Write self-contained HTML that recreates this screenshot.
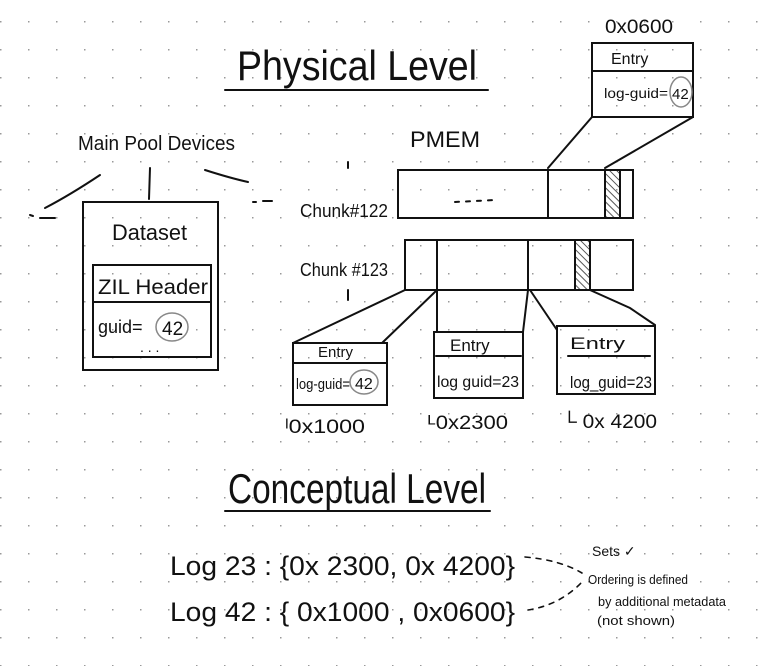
<!DOCTYPE html>
<html><head><meta charset="utf-8"><style>
html,body{margin:0;padding:0;background:#fff}
svg{display:block}
text{font-family:"Liberation Sans",sans-serif;fill:#111}
</style></head><body>
<svg width="774" height="666" viewBox="0 0 774 666" xmlns="http://www.w3.org/2000/svg">
<defs>
<pattern id="dots" x="0" y="21" width="28" height="28" patternUnits="userSpaceOnUse">
<rect x="0" y="0" width="1.5" height="1.5" fill="#999"/>
</pattern>
<pattern id="hatch" width="5" height="5" patternUnits="userSpaceOnUse" patternTransform="rotate(-45)">
<line x1="0" y1="0" x2="0" y2="5" stroke="#222" stroke-width="1.5"/>
</pattern>
</defs>
<rect width="774" height="666" fill="#fff"/>
<rect width="774" height="666" fill="url(#dots)"/>
<g stroke="#111" stroke-width="2" fill="none" stroke-linecap="round">
<line x1="225" y1="90" x2="488" y2="90"/>
<line x1="225" y1="511" x2="490" y2="511"/>
<rect x="592" y="43" width="101" height="74"/>
<line x1="592" y1="71" x2="693" y2="71"/>
<ellipse cx="681" cy="92" rx="11" ry="15" stroke="#888" stroke-width="1.5"/>
<line x1="592" y1="117" x2="548" y2="168"/>
<line x1="693" y1="117" x2="605" y2="168"/>
<rect x="398" y="170" width="235" height="48"/>
<line x1="548" y1="170" x2="548" y2="218"/>
<rect x="605" y="170" width="15" height="48" fill="url(#hatch)"/>
<line x1="620" y1="170" x2="620" y2="218"/>
<rect x="405" y="240" width="228" height="50"/>
<line x1="437" y1="240" x2="437" y2="290"/>
<line x1="528" y1="240" x2="528" y2="290"/>
<rect x="575" y="240" width="15" height="50" fill="url(#hatch)"/>
<line x1="590" y1="240" x2="590" y2="290"/>
<line x1="405" y1="290" x2="293" y2="343"/>
<line x1="437" y1="290" x2="382" y2="343"/>
<line x1="437" y1="290" x2="437" y2="332"/>
<line x1="528" y1="290" x2="523" y2="332"/>
<polyline points="530,290 557,330 557,335"/>
<polyline points="590,290 630,308 655,325"/>
<rect x="293" y="343" width="94" height="62"/>
<line x1="293" y1="363" x2="387" y2="363"/>
<ellipse cx="364" cy="382" rx="14" ry="12" stroke="#888" stroke-width="1.5"/>
<rect x="434" y="332" width="89" height="66"/>
<line x1="436" y1="356" x2="521" y2="356"/>
<rect x="557" y="326" width="98" height="68"/>
<line x1="568" y1="356" x2="650" y2="356"/>
<rect x="83" y="202" width="135" height="168"/>
<rect x="93" y="265" width="118" height="92"/>
<line x1="93" y1="302" x2="211" y2="302"/>
<ellipse cx="172" cy="327" rx="16" ry="14" stroke="#888" stroke-width="1.5"/>
<line x1="150" y1="168" x2="149" y2="199"/>
<path d="M100 175 Q70 195 45 208"/>
<path d="M205 170 Q230 178 248 182"/>
<line x1="30" y1="215" x2="33" y2="216"/>
<line x1="40" y1="218" x2="55" y2="218"/>
<line x1="253" y1="202" x2="256" y2="202"/>
<line x1="263" y1="201" x2="272" y2="201"/>
<path d="M525 557 Q560 560 582 573" stroke-dasharray="5,6" stroke-width="1.6"/>
<path d="M528 610 Q560 605 582 582" stroke-dasharray="5,6" stroke-width="1.6"/>
<line x1="348" y1="162" x2="348" y2="168"/>
<line x1="348" y1="290" x2="348" y2="300"/>
<line x1="455" y1="202" x2="495" y2="200" stroke-dasharray="4,7"/>
</g>
<text x="237" y="80" font-size="42" textLength="240" lengthAdjust="spacingAndGlyphs">Physical Level</text>
<text x="228" y="503" font-size="42" textLength="258" lengthAdjust="spacingAndGlyphs">Conceptual Level</text>
<text x="605" y="33" font-size="19" textLength="68" lengthAdjust="spacingAndGlyphs">0x0600</text>
<text x="611" y="64" font-size="16">Entry</text>
<text x="604" y="98" font-size="14" textLength="64" lengthAdjust="spacingAndGlyphs">log-guid=</text>
<text x="672" y="99" font-size="15">42</text>
<text x="410" y="147" font-size="22" textLength="70" lengthAdjust="spacingAndGlyphs">PMEM</text>
<text x="78" y="150" font-size="20" textLength="157" lengthAdjust="spacingAndGlyphs">Main Pool Devices</text>
<text x="300" y="217" font-size="18" textLength="88" lengthAdjust="spacingAndGlyphs">Chunk#122</text>
<text x="300" y="276" font-size="18" textLength="88" lengthAdjust="spacingAndGlyphs">Chunk #123</text>
<text x="112" y="240" font-size="22" textLength="75" lengthAdjust="spacingAndGlyphs">Dataset</text>
<text x="98" y="294" font-size="21" textLength="110" lengthAdjust="spacingAndGlyphs">ZIL Header</text>
<text x="98" y="333" font-size="18">guid=</text>
<text x="162" y="335" font-size="19">42</text>
<text x="140" y="352" font-size="14">. . .</text>
<text x="318" y="357" font-size="15">Entry</text>
<text x="296" y="389" font-size="15" textLength="54" lengthAdjust="spacingAndGlyphs">log-guid=</text>
<text x="355" y="389" font-size="16">42</text>
<text x="450" y="351" font-size="17">Entry</text>
<text x="437" y="387" font-size="16" textLength="82" lengthAdjust="spacingAndGlyphs">log guid=23</text>
<text x="570" y="349" font-size="17" textLength="55" lengthAdjust="spacingAndGlyphs">Entry</text>
<text x="570" y="388" font-size="17" textLength="82" lengthAdjust="spacingAndGlyphs">log_guid=23</text>
<text x="285" y="433" font-size="19" textLength="80" lengthAdjust="spacingAndGlyphs">ˡ0x1000</text>
<text x="428" y="429" font-size="19" textLength="80" lengthAdjust="spacingAndGlyphs">ᴸ0x2300</text>
<text x="562" y="428" font-size="19" textLength="95" lengthAdjust="spacingAndGlyphs">└ 0x 4200</text>
<text x="170" y="575" font-size="27" textLength="345" lengthAdjust="spacingAndGlyphs">Log 23 : {0x 2300, 0x 4200}</text>
<text x="170" y="621" font-size="27" textLength="345" lengthAdjust="spacingAndGlyphs">Log 42 :  { 0x1000 , 0x0600}</text>
<text x="592" y="556" font-size="14">Sets ✓</text>
<text x="588" y="584" font-size="13" textLength="100" lengthAdjust="spacingAndGlyphs">Ordering is defined</text>
<text x="598" y="606" font-size="13" textLength="128" lengthAdjust="spacingAndGlyphs">by additional metadata</text>
<text x="597" y="625" font-size="13" textLength="78" lengthAdjust="spacingAndGlyphs">(not shown)</text>
</svg>
</body></html>
